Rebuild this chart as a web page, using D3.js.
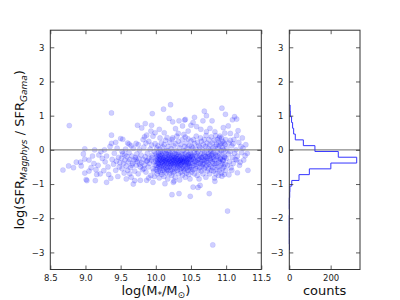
<!DOCTYPE html>
<html><head><meta charset="utf-8">
<script src="https://cdn.jsdelivr.net/npm/d3@7"></script>
<style>body{margin:0;background:#fff}svg{display:block;font-family:"DejaVu Sans",sans-serif}</style>
</head><body><svg id="c" width="400" height="300"></svg>
<script>
// ---- data ----
const xTicks = [8.5, 9.0, 9.5, 10.0, 10.5, 11.0, 11.5];
const yTicks = [-3, -2, -1, 0, 1, 2, 3];
const countTicks = [0, 200];
const binEdges = [-2.93,-2.76,-2.59,-2.42,-2.25,-2.08,-1.91,-1.74,-1.57,-1.40,-1.23,-1.06,-0.895,-0.725,-0.556,-0.386,-0.216,-0.047,0.123,0.292,0.462,0.631,0.80,0.97,1.14,1.31];
const binCounts = [1,0,0,0,0,0,1,0,0,2,3,12,47,97,201,326,237,124,68,29,21,16,11,5,4];
const points = [
[8.68,-0.59],[8.77,0.71],[8.76,-0.47],[8.87,-0.36],[8.94,-0.47],[8.99,-0.27],[8.99,0.03],[8.99,-0.68],[8.93,-0.36],[8.83,-0.52],[8.97,-0.12],
[9.01,-0.87],[9.02,-0.9],[9.13,0.0],[9.12,-0.4],[9.14,-0.9],[9.15,-0.58],[9.19,-0.15],[9.24,-0.25],[9.26,-0.61],[9.30,-0.95],[9.36,-0.83],[9.37,1.08],[9.37,0.43],[9.37,0.19],[9.35,0.1],[9.05,-0.3],[9.08,-0.52],[9.1,-0.18],[9.18,-0.45],[9.21,-0.7],[9.22,-0.05],[9.28,-0.35],[9.3,-0.18],[9.32,-0.5],[9.33,-0.72],[9.38,-0.28],[9.4,-0.42],[9.41,-0.1],[9.43,-0.6],[9.44,-0.33],[9.45,0.05],[9.46,-0.78],[9.47,-0.22],[9.48,-0.5],[9.49,-0.38],[9.27,0.0],[9.16,-0.72],[9.43,0.22],[9.05,-0.62],
[9.5,0.33],[9.53,0.31],[9.62,0.17],[9.72,0.19],[9.74,0.72],[9.8,0.64],[9.85,0.77],[9.84,0.38],[9.87,0.43],[9.94,0.72],[9.94,0.14],[9.95,1.06],[9.68,-1.0],[9.78,-0.89],[9.87,-0.89],[9.96,-0.95],
[9.51,-0.25],[9.52,-0.55],[9.53,-0.12],[9.54,-0.4],[9.55,-0.68],[9.56,-0.3],[9.57,0.02],[9.58,-0.47],[9.59,-0.2],[9.6,-0.6],[9.61,-0.35],[9.62,-0.08],[9.63,-0.28],[9.64,-0.52],[9.65,-0.8],[9.66,-0.18],[9.67,-0.4],[9.68,0.05],[9.69,-0.3],[9.7,-0.62],[9.71,-0.22],[9.72,-0.45],[9.73,-0.12],[9.74,-0.35],[9.75,-0.7],[9.76,-0.26],[9.77,0.0],[9.78,-0.5],[9.79,-0.15],[9.8,-0.38],[9.81,-0.58],[9.82,-0.28],[9.83,0.08],[9.84,-0.44],[9.85,-0.2],[9.86,-0.65],[9.87,-0.33],[9.88,-0.1],[9.89,-0.5],[9.9,-0.25],[9.91,-0.4],[9.92,0.02],[9.93,-0.75],[9.94,-0.3],[9.95,-0.15],[9.96,-0.55],[9.97,-0.35],[9.98,-0.05],[9.99,-0.45],[9.9,0.25],[9.82,0.3],[9.65,0.12],[9.58,-0.85],[9.7,-0.9],[9.9,-0.82],[9.96,0.4],[9.6,0.2],[9.75,0.15],[9.93,0.55],[9.86,0.2],[9.52,-0.05],[9.97,-0.62],[9.88,-0.32],[9.77,-0.42],[9.66,-0.45],[9.56,-0.15],[9.94,-0.22],[9.83,-0.55],[9.72,-0.28],[9.63,-0.7],[9.99,0.18],[9.98,-0.78],
[10.21,1.32],[10.11,1.19],[10.19,0.92],[10.24,0.82],[10.33,0.85],[10.42,0.89],[10.06,0.35],[10.16,0.36],[10.23,0.3],[10.32,0.48],[10.42,0.37],[9.99,0.5],[10.13,-0.99],[10.26,-0.91],[10.23,-1.31],[10.33,-1.28],[10.49,-1.36],[10.25,-0.95],[10.41,0.87],[10.05,0.6],[10.28,0.62],[10.38,0.7],[10.46,0.55],[10.12,0.5],
[10.00,-0.32],[10.003,-0.12],[10.006,-0.58],[10.009,-0.21],[10.01,-0.45],[10.013,0.05],[10.016,-0.27],[10.019,-0.70],[10.02,-0.18],[10.023,-0.38],[10.026,-0.52],[10.029,0.12],[10.03,-0.29],[10.033,-0.63],[10.036,-0.08],[10.039,-0.41],[10.04,-0.35],[10.043,-0.15],[10.046,-0.48],[10.049,-0.82],
[10.05,-0.24],[10.053,-0.56],[10.056,0.02],[10.059,-0.31],[10.06,-0.42],[10.063,-0.19],[10.066,-0.66],[10.069,-0.05],[10.07,-0.28],[10.073,-0.5],[10.076,-0.13],[10.079,0.2],[10.08,-0.37],[10.083,-0.72],[10.086,-0.23],[10.089,-0.46],[10.09,-0.16],[10.093,-0.33],[10.096,-0.6],[10.099,0.08],
[10.10,-0.4],[10.103,-0.26],[10.106,-0.09],[10.109,-0.55],[10.11,-0.3],[10.113,-0.47],[10.116,-0.78],[10.119,0.15],[10.12,-0.22],[10.123,-0.36],[10.126,-0.62],[10.129,-0.04],[10.13,-0.44],[10.133,-0.18],[10.136,-0.3],[10.139,0.28],[10.14,-0.33],[10.143,-0.52],[10.146,-0.11],[10.149,-0.68],
[10.15,-0.25],[10.153,-0.4],[10.156,-0.02],[10.159,-0.57],[10.16,-0.36],[10.163,-0.2],[10.166,-0.48],[10.169,-0.85],[10.17,-0.29],[10.173,-0.61],[10.176,0.1],[10.179,-0.14],[10.18,-0.41],[10.183,-0.27],[10.186,-0.52],[10.189,-0.07],[10.19,-0.34],[10.193,-0.16],[10.196,-0.7],[10.199,0.22],
[10.20,-0.23],[10.203,-0.45],[10.206,-0.32],[10.209,-0.6],[10.21,-0.38],[10.213,-0.12],[10.216,-0.5],[10.219,0.04],[10.22,-0.28],[10.223,-0.43],[10.226,-0.75],[10.229,-0.2],[10.23,-0.35],[10.233,-0.58],[10.236,-0.05],[10.239,0.35],[10.24,-0.26],[10.243,-0.4],[10.246,-0.17],[10.249,-0.66],
[10.25,-0.32],[10.253,-0.5],[10.256,0.12],[10.259,-0.22],[10.26,-0.44],[10.263,-0.3],[10.266,-0.63],[10.269,-0.1],[10.27,-0.21],[10.273,-0.37],[10.276,-0.8],[10.279,0.18],[10.28,-0.39],[10.283,-0.25],[10.286,-0.54],[10.289,-0.03],[10.29,-0.3],[10.293,-0.46],[10.296,-0.14],[10.299,0.4],
[10.30,-0.35],[10.303,-0.2],[10.306,-0.6],[10.309,-0.42],[10.31,-0.27],[10.313,-0.52],[10.316,-0.08],[10.319,0.25],[10.32,-0.4],[10.323,-0.32],[10.326,-0.7],[10.329,-0.15],[10.33,-0.24],[10.333,-0.47],[10.336,0.06],[10.339,-0.88],[10.34,-0.36],[10.343,-0.19],[10.346,-0.57],[10.349,-0.3],
[10.35,-0.31],[10.353,-0.44],[10.356,0.15],[10.359,-0.65],[10.36,-0.42],[10.363,-0.26],[10.366,-0.1],[10.369,-0.53],[10.37,-0.28],[10.373,-0.38],[10.376,0.3],[10.379,-0.74],[10.38,-0.34],[10.383,-0.15],[10.386,-0.49],[10.389,-0.02],[10.39,-0.22],[10.393,-0.56],[10.396,-0.33],[10.399,0.45],
[10.40,-0.37],[10.403,-0.24],[10.406,-0.62],[10.409,0.1],[10.41,-0.3],[10.413,-0.45],[10.416,-0.12],[10.419,-0.8],[10.42,-0.4],[10.423,-0.2],[10.426,-0.55],[10.429,0.2],[10.43,-0.26],[10.433,-0.36],[10.436,-0.68],[10.439,-0.05],[10.44,-0.33],[10.443,-0.5],[10.446,0.05],[10.449,-0.18],
[10.45,-0.43],[10.453,-0.28],[10.456,-0.6],[10.459,0.32],[10.46,-0.25],[10.463,-0.4],[10.466,-0.14],[10.469,-0.72],[10.47,-0.36],[10.473,-0.52],[10.476,0.12],[10.479,-0.22],[10.48,-0.29],[10.483,-0.46],[10.486,-0.85],[10.489,-0.08],[10.49,-0.38],[10.493,-0.18],[10.496,-0.58],[10.499,0.26],
[10.53,0.8],[10.58,0.68],[10.64,0.6],[10.69,1.13],[10.72,1.0],[10.72,0.53],[10.77,0.63],[10.8,0.85],[10.84,0.53],[10.94,1.22],[10.96,0.65],[10.98,0.49],[10.99,1.04],[10.5,0.72],[10.53,-1.09],[10.63,-1.04],[10.76,-1.28],[10.84,-0.92],[10.94,-0.77],[10.81,-2.78],[10.6,-1.1],[10.55,0.95],[10.9,0.35],[10.67,0.85],
[10.50,-0.3],[10.503,-0.12],[10.506,-0.5],[10.509,0.1],[10.512,-0.65],[10.515,-0.22],
[10.52,-0.4],[10.523,-0.18],[10.526,0.05],[10.529,-0.58],[10.532,-0.28],[10.535,0.3],
[10.54,-0.25],[10.543,-0.45],[10.546,-0.08],[10.549,-0.7],[10.552,0.18],[10.555,-0.35],
[10.56,-0.33],[10.563,-0.15],[10.566,-0.55],[10.569,0.02],[10.572,-0.42],[10.575,0.4],
[10.58,-0.2],[10.583,-0.48],[10.586,-0.1],[10.589,-0.75],[10.592,0.22],[10.595,-0.3],
[10.60,-0.38],[10.603,-0.05],[10.606,-0.6],[10.609,-0.25],[10.612,0.12],[10.615,-0.85],
[10.62,-0.28],[10.623,-0.52],[10.626,0.08],[10.629,-0.18],[10.632,-0.4],[10.635,0.35],
[10.64,-0.35],[10.643,-0.12],[10.646,-0.62],[10.649,0.25],[10.652,-0.22],[10.655,-0.48],
[10.66,-0.22],[10.663,-0.42],[10.666,0.0],[10.669,-0.7],[10.672,-0.3],[10.675,0.15],
[10.68,-0.4],[10.683,-0.15],[10.686,-0.55],[10.689,0.3],[10.692,-0.08],[10.695,-0.32],
[10.70,-0.27],[10.703,-0.5],[10.706,0.1],[10.709,-0.2],[10.712,-0.8],[10.715,0.42],
[10.72,-0.33],[10.723,-0.1],[10.726,-0.45],[10.729,0.2],[10.732,-0.62],[10.735,-0.25],
[10.74,-0.2],[10.743,-0.38],[10.746,0.05],[10.749,-0.55],[10.752,-0.12],[10.755,0.3],
[10.76,-0.42],[10.763,-0.18],[10.766,-0.7],[10.769,0.15],[10.772,-0.3],[10.775,0.0],
[10.78,-0.25],[10.783,-0.48],[10.786,-0.05],[10.789,0.38],[10.792,-0.6],[10.795,-0.15],
[10.80,-0.35],[10.803,-0.12],[10.806,0.2],[10.809,-0.52],[10.812,-0.28],[10.815,0.05],
[10.82,-0.22],[10.823,-0.62],[10.826,-0.08],[10.829,0.28],[10.832,-0.4],[10.835,-0.82],
[10.84,-0.3],[10.843,0.1],[10.846,-0.45],[10.849,-0.15],[10.852,0.42],[10.855,-0.7],
[10.86,-0.4],[10.863,-0.2],[10.866,0.15],[10.869,-0.58],[10.872,-0.05],[10.875,0.3],
[10.88,-0.18],[10.883,-0.5],[10.886,0.05],[10.889,-0.3],[10.892,-0.75],[10.895,0.22],
[10.90,-0.35],[10.903,0.12],[10.906,-0.6],[10.909,-0.1],[10.912,0.4],[10.915,-0.25],
[10.92,-0.28],[10.923,-0.45],[10.926,0.18],[10.929,-0.02],[10.932,-0.68],[10.935,0.35],
[10.94,-0.15],[10.943,-0.4],[10.946,0.08],[10.949,-0.55],[10.952,0.25],[10.955,-0.3],
[10.96,-0.32],[10.963,0.0],[10.966,-0.5],[10.969,0.2],[10.972,-0.2],[10.975,-0.72],
[10.98,-0.22],[10.983,0.15],[10.986,-0.42],[10.989,-0.05],[10.992,0.3],[10.995,-0.6],
[11.02,-1.79],[11.31,-0.6],[11.16,-0.67],[11.27,-0.17],[11.2,-0.36],[11.04,-0.73],[11.08,-0.6],[11.15,-0.3],[11.12,0.97],[11.15,0.9],[11.09,0.88],[11.03,0.7],[11.06,0.48],[11.17,0.56],[11.15,0.42],[11.06,0.28],[11.21,0.1],[11.1,0.18],
[11.0,-0.25],[11.01,0.05],[11.02,-0.45],[11.03,-0.12],[11.04,0.2],[11.05,-0.35],[11.06,-0.05],[11.07,-0.52],[11.08,0.12],[11.09,-0.22],[11.1,-0.4],[11.11,0.3],[11.12,-0.1],[11.13,-0.28],[11.14,0.0],[11.16,-0.18],[11.18,0.22],[11.19,-0.45],[11.22,-0.08],[11.24,0.05],[11.25,-0.3],[11.28,0.15],[11.3,-0.1],[11.23,0.35]
];

// ---- layout ----
const svg = d3.select("#c");
const yTop = 30.2, yBot = 269.5;
const main = {l: 50.3, r: 261.3};
const hist = {l: 289.3, r: 360};
const x = d3.scaleLinear().domain([8.5, 11.5]).range([main.l, main.r]);
const y = d3.scaleLinear().domain([-3.5, 3.5]).range([yBot, yTop]);
const xc = d3.scaleLinear().domain([0, 342]).range([hist.l, hist.r]);
const tickFont = 8.5, frame = "#333";

// main panel points
const gMain = svg.append("g");
gMain.append("defs").append("clipPath").attr("id","cm").append("rect")
  .attr("x", main.l).attr("y", yTop).attr("width", main.r-main.l).attr("height", yBot-yTop);
gMain.append("g").attr("clip-path","url(#cm)").selectAll("circle").data(points).join("circle")
  .attr("cx", d => x(d[0])).attr("cy", d => y(d[1])).attr("r", 2.6)
  .attr("fill", "blue").attr("fill-opacity", 0.19)
  .attr("stroke", "blue").attr("stroke-opacity", 0.12).attr("stroke-width", 0.6);
gMain.append("line").attr("x1", main.l).attr("x2", main.r).attr("y1", y(0)).attr("y2", y(0))
  .attr("stroke", "#888").attr("stroke-width", 1.1);

// histogram panel
const histPts = [[0, binEdges[0]]];
binCounts.forEach((c, i) => { histPts.push([c, binEdges[i]]); histPts.push([c, binEdges[i+1]]); });
histPts.push([0, binEdges[binEdges.length-1]]);
svg.append("line").attr("x1", hist.l).attr("x2", hist.r).attr("y1", y(0)).attr("y2", y(0))
  .attr("stroke", "#888").attr("stroke-width", 1.1);
svg.append("path").datum(histPts)
  .attr("d", d3.line().x(d => xc(d[0])).y(d => y(d[1])))
  .attr("fill", "none").attr("stroke", "#3535ff").attr("stroke-width", 1);

// axes helpers
function frameAxes(l, r, xs, xticks, xfmt) {
  const g = svg.append("g");
  const yAxL = d3.axisLeft(y).tickValues(yTicks).tickSize(-4).tickPadding(6).tickFormat(d => d3.format("d")(d).replace("-", "\u2212"));
  const yAxR = d3.axisRight(y).tickValues(yTicks).tickSize(-4).tickFormat("");
  const xAxB = d3.axisBottom(xs).tickValues(xticks).tickSize(-4).tickPadding(5).tickFormat(xfmt);
  const xAxT = d3.axisTop(xs).tickValues(xticks).tickSize(-4).tickFormat("");
  g.append("g").attr("transform", `translate(${l},0)`).call(yAxL);
  g.append("g").attr("transform", `translate(${r},0)`).call(yAxR);
  g.append("g").attr("transform", `translate(0,${yBot})`).call(xAxB);
  g.append("g").attr("transform", `translate(0,${yTop})`).call(xAxT);
  g.selectAll(".domain").remove();
  g.selectAll(".tick line").attr("stroke", frame).attr("stroke-width", 0.8);
  g.selectAll(".tick text").attr("font-size", tickFont).attr("fill", "#222").attr("font-family", "DejaVu Sans");
  g.append("rect").attr("x", l).attr("y", yTop).attr("width", r-l).attr("height", yBot-yTop)
    .attr("fill", "none").attr("stroke", frame).attr("stroke-width", 1);
}
frameAxes(main.l, main.r, x, xTicks, d3.format(".1f"));
frameAxes(hist.l, hist.r, xc, countTicks, d3.format("d"));

// labels
const xl = svg.append("text").attr("x", (main.l+main.r)/2).attr("y", 295).attr("text-anchor", "middle")
  .attr("font-size", 13).attr("fill", "#111");
xl.append("tspan").text("log(M");
xl.append("tspan").attr("font-size", 9).attr("dy", 3).text("*");
xl.append("tspan").attr("dy", -3).text("/M");
xl.append("tspan").attr("font-size", 9).attr("dy", 3).text("\u2299");
xl.append("tspan").attr("dy", -3).text(")");

svg.append("text").attr("x", (hist.l+hist.r)/2).attr("y", 295).attr("text-anchor", "middle")
  .attr("font-size", 13).attr("fill", "#111").text("counts");

const yl = svg.append("text").attr("transform", `translate(24,${(yTop+yBot)/2}) rotate(-90)`)
  .attr("text-anchor", "middle").attr("font-size", 13).attr("fill", "#111");
yl.append("tspan").text("log(SFR");
yl.append("tspan").attr("font-size", 9).attr("font-style", "italic").attr("dy", 3).text("Magphys");
yl.append("tspan").attr("dy", -3).text(" / SFR");
yl.append("tspan").attr("font-size", 9).attr("font-style", "italic").attr("dy", 3).text("Gama");
yl.append("tspan").attr("dy", -3).text(")");
</script></body></html>
